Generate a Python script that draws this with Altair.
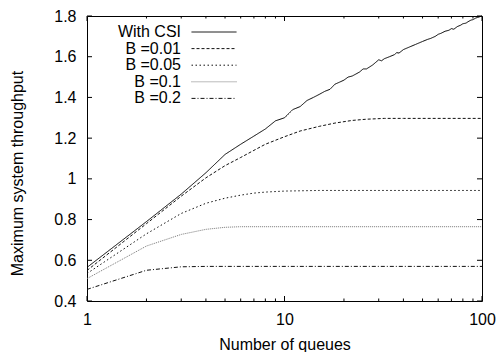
import altair as alt
import pandas as pd

W, H = 395, 285
FONT = "Liberation Sans"

names = ["With CSI", "B =0.01", "B =0.05", "B =0.1", "B =0.2"]
dashes = [[1, 0], [3, 2], [1.5, 2.5], [1, 1], [4, 2, 1, 2]]
colors = ["#000000", "#111111", "#111111", "#777777", "#111111"]

csi_n = [1, 2, 3, 4, 5, 6, 7, 8, 9, 10, 11, 12, 13, 14, 15, 16, 17, 18, 19, 20,
         21, 22, 23, 24, 25, 26, 27, 28, 30, 31, 32, 34, 36, 37, 38, 40, 43, 46,
         50, 53, 55, 58, 60, 62, 65, 68, 70, 72, 75, 78, 80, 83, 85, 88, 90, 93, 95, 100]
csi_v = [0.565, 0.79, 0.925, 1.03, 1.12, 1.17, 1.21, 1.245, 1.285, 1.30, 1.34, 1.355,
         1.385, 1.40, 1.415, 1.43, 1.44, 1.465, 1.475, 1.485, 1.50, 1.505, 1.515, 1.525,
         1.54, 1.54, 1.55, 1.56, 1.585, 1.58, 1.59, 1.60, 1.61, 1.62, 1.618, 1.635, 1.648,
         1.66, 1.675, 1.685, 1.69, 1.70, 1.71, 1.715, 1.725, 1.73, 1.738, 1.735, 1.748,
         1.755, 1.762, 1.765, 1.772, 1.78, 1.782, 1.79, 1.793, 1.80]

b001_n = [1, 2, 3, 4, 5, 6, 7, 8, 10, 12, 15, 18, 22, 26, 32, 40, 100]
b001_v = [0.55, 0.78, 0.915, 1.005, 1.065, 1.105, 1.14, 1.17, 1.207, 1.235, 1.258,
          1.274, 1.287, 1.293, 1.297, 1.297, 1.297]

b005_n = [1, 2, 3, 4, 5, 6, 7, 8, 10, 15, 100]
b005_v = [0.535, 0.73, 0.83, 0.88, 0.905, 0.92, 0.93, 0.935, 0.94, 0.943, 0.943]

b01_n = [1, 2, 3, 4, 5, 6, 100]
b01_v = [0.51, 0.67, 0.727, 0.752, 0.762, 0.765, 0.765]

b02_n = [1, 2, 3, 4, 100]
b02_v = [0.457, 0.551, 0.568, 0.57, 0.57]

y_ticks = [0.4, 0.6, 0.8, 1.0, 1.2, 1.4, 1.6, 1.8]
x_ticks = [1, 10, 100]
x_minor = [2, 3, 4, 5, 6, 7, 8, 9, 20, 30, 40, 50, 60, 70, 80, 90]

rows = []
for name, xs, ys in zip(names, [csi_n, b001_n, b005_n, b01_n, b02_n],
                        [csi_v, b001_v, b005_v, b01_v, b02_v]):
    for x, y in zip(xs, ys):
        rows.append({"series": name, "n": x, "v": y})
df = pd.DataFrame(rows)

xscale = alt.Scale(type="log", domain=[1, 100], nice=False)
yscale = alt.Scale(domain=[0.4, 1.8], nice=False, zero=False)

leg = dict(orient="none", legendX=119, legendY=8, title=None, symbolType="M-3,0H3",
           symbolSize=225, symbolStrokeWidth=1, symbolFillColor="transparent",
           labelAlign="right", labelOffset={"expr": "-41"}, rowPadding=0.6,
           labelFont=FONT, labelFontSize=16, labelColor="black",
           padding=0, symbolOffset=0, labelLimit=0)

lines = alt.Chart(df).mark_line(strokeWidth=1).encode(
    x=alt.X("n:Q", scale=xscale,
            axis=alt.Axis(values=x_ticks, format="~g", title="Number of queues",
                          labelBaseline="alphabetic", labelPadding=23, labelFlush=False,
                          titleX=W / 2, titleY=48, titleBaseline="alphabetic")),
    y=alt.Y("v:Q", scale=yscale,
            axis=alt.Axis(values=y_ticks, format="~g", title="Maximum system throughput",
                          labelPadding=11, labelFlush=False, titleX=-64.5, titleY=157,
                          titleBaseline="alphabetic", titleAngle=270)),
    color=alt.Color("series:N", scale=alt.Scale(domain=names, range=colors),
                    legend=alt.Legend(**leg)),
    strokeDash=alt.StrokeDash("series:N", scale=alt.Scale(domain=names, range=dashes),
                              legend=alt.Legend(**leg)),
)

ydf = pd.DataFrame({"v": y_ticks})
xdf = pd.DataFrame({"n": x_ticks})
xmdf = pd.DataFrame({"n": x_minor})

yl = alt.Chart(ydf).mark_rule(color="black", strokeWidth=1).encode(
    y=alt.Y("v:Q", scale=yscale), x=alt.value(0), x2=alt.value(5))
yr = alt.Chart(ydf).mark_rule(color="black", strokeWidth=1).encode(
    y=alt.Y("v:Q", scale=yscale), x=alt.value(W - 5), x2=alt.value(W))
xb = alt.Chart(xdf).mark_rule(color="black", strokeWidth=1).encode(
    x=alt.X("n:Q", scale=xscale), y=alt.value(H), y2=alt.value(H - 5))
xt = alt.Chart(xdf).mark_rule(color="black", strokeWidth=1).encode(
    x=alt.X("n:Q", scale=xscale), y=alt.value(0), y2=alt.value(5))
xmb = alt.Chart(xmdf).mark_rule(color="black", strokeWidth=1).encode(
    x=alt.X("n:Q", scale=xscale), y=alt.value(H), y2=alt.value(H - 2.5))
xmt = alt.Chart(xmdf).mark_rule(color="black", strokeWidth=1).encode(
    x=alt.X("n:Q", scale=xscale), y=alt.value(0), y2=alt.value(2.5))

chart = alt.layer(lines, yl, yr, xb, xt, xmb, xmt).properties(
    width=W, height=H,
    autosize=alt.AutoSizeParams(type="none"),
    padding={"left": 87, "top": 16, "right": 18, "bottom": 51},
    background="white",
).configure_view(stroke="black", strokeWidth=1).configure_axis(
    domain=False, ticks=False, grid=False,
    labelFont=FONT, labelFontSize=16, labelColor="black",
    titleFont=FONT, titleFontSize=16, titleFontWeight="normal", titleColor="black",
)

chart.save("out.html", embed_options={"renderer": "svg", "actions": False})
